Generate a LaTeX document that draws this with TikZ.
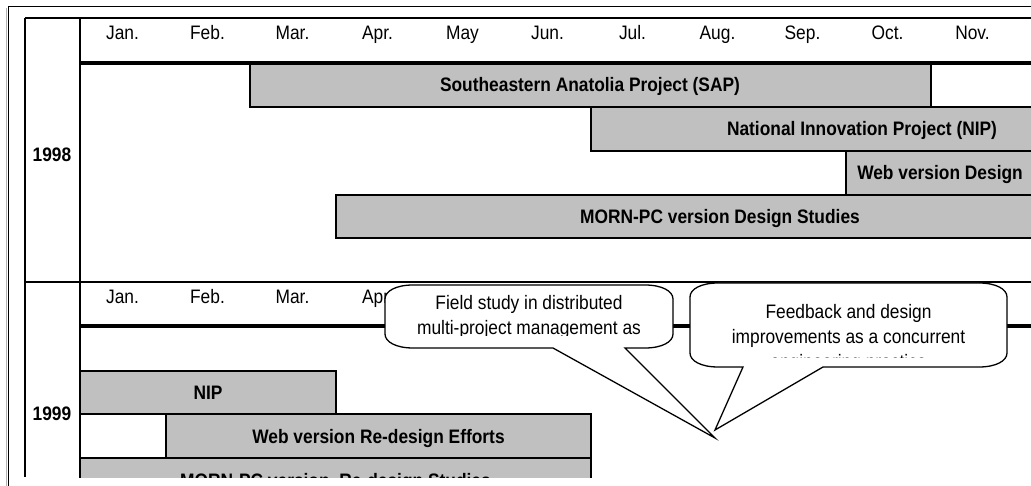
\documentclass[tikz,border=0pt]{standalone}
\usepackage{fontspec}
\setmainfont{Liberation Sans}
\newfontfamily\chartfont[FakeStretch=0.89]{Liberation Sans}
\definecolor{barfill}{HTML}{C0C0C0}

\tikzset{
  bar/.style={fill=barfill, draw=black, line width=1.5pt},
  gridline/.style={draw=black, line width=1.8pt},
  monthrule/.style={draw=black, line width=4pt},
  month/.style={anchor=base, inner sep=0pt, font=\chartfont\fontsize{19.5}{23}\selectfont},
  bartext/.style={anchor=base, inner sep=0pt, font=\chartfont\bfseries\fontsize{19.5}{23}\selectfont},
  calltext/.style={anchor=north, inner sep=0pt, align=center,
    font=\chartfont\fontsize{19.5}{25}\selectfont},
  callout/.style={fill=white, draw=black, line width=1.3pt, line join=miter},
}

% speech bubble: box corners, wedge base x-positions, tip
\newcommand{\bubble}[9]{%
  % #1,#2 = x1,y1 ; #3,#4 = x2,y2 ; #5,#6 = base left/right x ; #7,#8 = tip ; #9 = corner rx
  \path[callout] (#1+#9,#2) -- (#3-#9,#2)
    .. controls +(0.6*#9,0) and +(0,-8) .. (#3,#2+14)
    -- (#3,#4-14)
    .. controls +(0,8) and +(0.6*#9,0) .. (#3-#9,#4)
    -- (#6,#4) -- (#7,#8) -- (#5,#4)
    -- (#1+#9,#4)
    .. controls +(-0.6*#9,0) and +(0,8) .. (#1,#4-14)
    -- (#1,#2+14)
    .. controls +(0,-8) and +(-0.6*#9,0) .. (#1+#9,#2) -- cycle;
}

\begin{document}
\begin{tikzpicture}[x=1pt,y=-1pt]
\useasboundingbox (0,0) rectangle (1031,486);

% page frame
\draw[gray!60, line width=1pt] (6,8) -- (6,486);
\draw[black, line width=1.5pt] (8.5,6.5) -- (1031,6.5);
\draw[black, line width=1.5pt] (8.5,6.5) -- (8.5,486);

\begin{scope}
  \clip (0,0) rectangle (1031,477);

  % 1998 activities
  \path[bar] (250,63) rectangle (931,107);
  \path[bar] (591,107) rectangle (1133,151);
  \path[bar] (846,151) rectangle (1133,195);
  \path[bar] (336,195) rectangle (1104,238);

  % 1999 activities
  \path[bar] (80,371) rectangle (336,414);
  \path[bar] (166,414) rectangle (591,458);
  \path[bar] (80,458) rectangle (591,501);

  % table grid
  \draw[gridline] (25,18) -- (1031,18);
  \draw[gridline] (25,18) -- (25,477);
  \draw[gridline] (80,18) -- (80,477);
  \draw[gridline] (25,282) -- (1031,282);
  \draw[monthrule] (80,63) -- (1031,63);
  \draw[monthrule] (80,326) -- (1031,326);

  % month headers
  \foreach \m [count=\i from 0] in {Jan.,Feb.,Mar.,Apr.,May,Jun.,Jul.,Aug.,Sep.,Oct.,Nov.}{
    \node[month] (ma\i) at (122.5+85*\i,40) {\m};
  }
  \foreach \m [count=\i from 0] in {Jan.,Feb.,Mar.,Apr.}{
    \node[month] (mb\i) at (122.5+85*\i,304) {\m};
  }

  % year labels
  \node[bartext] (y98) at (52,162) {1998};
  \node[bartext] (y99) at (52,420) {1999};

  % bar labels
  \node[bartext] (sap)  at (590,92) {Southeastern Anatolia Project (SAP)};
  \node[bartext] (nip)  at (862,136) {National Innovation Project (NIP)};
  \node[bartext, anchor=base east] (webd) at (1023,180) {Web version Design};
  \node[bartext] (morn) at (720,223.5) {MORN-PC version Design Studies};
  \node[bartext] (nip2) at (208,399.5) {NIP};
  \node[bartext] (webr) at (378.5,443) {Web version Re-design Efforts};
  \node[bartext] (mornr) at (335.5,487) {MORN-PC version\ \ Re-design Studies};
\end{scope}

% remarks
\bubble{385}{285}{673}{348}{553}{625}{715}{438}{28}
\bubble{690}{283}{1007}{367}{743}{823}{715}{430}{28}

\begin{scope}
  \clip (390,287) rectangle (668,336);
  \node[calltext] (field) at (529,295)
    {Field study in distributed\\multi-project management as\\the basis for requirements};
\end{scope}
\begin{scope}
  \clip (695,285) rectangle (1002,357.5);
  \node[calltext] (feed) at (848.5,304.5)
    {Feedback and design\\improvements as a concurrent\\engineering practice};
\end{scope}
\end{tikzpicture}
\end{document}
